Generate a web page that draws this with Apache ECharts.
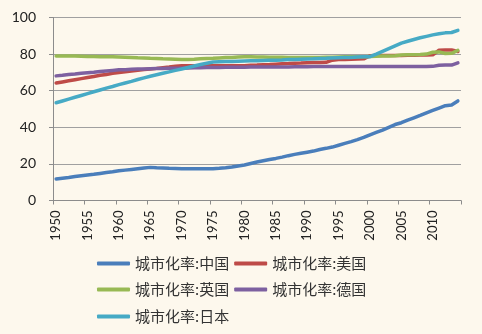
<!DOCTYPE html>
<html>
<head>
<meta charset="utf-8">
<script src="https://cdn.jsdelivr.net/npm/echarts@6/dist/echarts.min.js"></script>
<style>
html,body{margin:0;padding:0;background:#fdf8ed;}
#c{width:482px;height:334px;}
</style>
</head>
<body>
<div id="c"></div>
<script>
const years = [];
for (let y = 1950; y <= 2014; y++) years.push(String(y));

const seriesNames = ['城市化率:中国', '城市化率:美国', '城市化率:英国', '城市化率:德国', '城市化率:日本'];

const china = [
  11.8, 12.2, 12.6, 13.1, 13.5, 13.9, 14.3, 14.8, 15.3, 15.7,
  16.2, 16.6, 17.0, 17.4, 17.8, 18.1, 17.9, 17.8, 17.6, 17.5,
  17.4, 17.3, 17.3, 17.3, 17.3, 17.4, 17.6, 17.9, 18.3, 18.9,
  19.4, 20.2, 21.0, 21.7, 22.4, 23.0, 23.7, 24.5, 25.2, 25.8,
  26.4, 27.0, 27.9, 28.5, 29.2, 30.2, 31.2, 32.2, 33.3, 34.5,
  35.9, 37.2, 38.5, 40.0, 41.5, 42.5, 43.9, 45.2, 46.5, 47.9,
  49.2, 50.5, 51.8, 52.2, 54.4
];
const usa = [
  64.2, 64.8, 65.4, 66.0, 66.6, 67.2, 67.8, 68.4, 68.9, 69.5,
  70.0, 70.4, 70.8, 71.2, 71.6, 71.9, 72.2, 72.6, 72.9, 73.3,
  73.6, 73.6, 73.6, 73.7, 73.7, 73.7, 73.7, 73.7, 73.7, 73.7,
  73.7, 73.9, 74.0, 74.2, 74.3, 74.5, 74.7, 74.8, 75.0, 75.1,
  75.3, 75.4, 75.4, 75.5, 76.7, 77.0, 77.1, 77.2, 77.3, 77.4,
  79.1, 79.2, 79.2, 79.3, 79.3, 79.3, 79.4, 79.4, 79.5, 79.5,
  79.6, 82.1, 82.3, 82.2, 81.4
];
const uk = [
  79.0, 79.0, 78.9, 78.9, 78.8, 78.7, 78.7, 78.6, 78.6, 78.5,
  78.4, 78.3, 78.2, 78.0, 77.9, 77.7, 77.6, 77.4, 77.3, 77.2,
  77.1, 77.1, 77.2, 77.4, 77.6, 77.7, 77.9, 78.1, 78.2, 78.4,
  78.5, 78.5, 78.4, 78.4, 78.3, 78.3, 78.3, 78.2, 78.2, 78.1,
  78.1, 78.2, 78.2, 78.3, 78.3, 78.4, 78.5, 78.5, 78.6, 78.6,
  78.7, 78.8, 78.9, 79.0, 79.1, 79.5, 79.6, 79.7, 79.8, 80.0,
  81.0, 81.2, 80.3, 80.4, 82.0
];
const germany = [
  68.1, 68.4, 68.8, 69.1, 69.5, 69.8, 70.1, 70.5, 70.8, 71.1,
  71.4, 71.5, 71.7, 71.8, 71.9, 72.0, 72.1, 72.1, 72.2, 72.2,
  72.3, 72.4, 72.5, 72.6, 72.7, 72.7, 72.7, 72.8, 72.8, 72.8,
  72.8, 72.9, 72.9, 72.9, 73.0, 73.0, 73.0, 73.0, 73.1, 73.1,
  73.1, 73.2, 73.2, 73.2, 73.2, 73.2, 73.2, 73.2, 73.2, 73.2,
  73.2, 73.2, 73.2, 73.2, 73.2, 73.2, 73.2, 73.2, 73.2, 73.2,
  73.3, 73.9, 74.0, 74.0, 75.2
];
const japan = [
  53.4, 54.4, 55.4, 56.4, 57.4, 58.4, 59.4, 60.4, 61.4, 62.3,
  63.3, 64.2, 65.1, 66.1, 67.0, 67.9, 68.7, 69.5, 70.3, 71.1,
  71.9, 72.7, 73.5, 74.3, 75.0, 75.7, 75.8, 75.9, 76.0, 76.1,
  76.2, 76.3, 76.4, 76.5, 76.6, 76.7, 76.8, 77.0, 77.1, 77.2,
  77.3, 77.4, 77.6, 77.7, 77.9, 78.0, 78.1, 78.2, 78.4, 78.5,
  78.6, 80.0, 81.5, 83.0, 84.5, 86.0, 87.0, 88.0, 88.9, 89.7,
  90.5, 91.1, 91.6, 91.8, 93.0
];

const yTicks = [0, 20, 40, 60, 80, 100];
const colors = ['#4a7ebb', '#be4b48', '#98b954', '#7d60a0', '#46aac5'];
const values = [china, usa, uk, germany, japan];

const chart = echarts.init(document.getElementById('c'), null, {renderer: 'canvas'});

const legendBase = {
  left: 97,
  orient: 'horizontal',
  icon: 'roundRect',
  itemWidth: 33,
  itemHeight: 4,
  itemGap: 5,
  padding: 0,
  textStyle: {
    fontFamily: 'Noto Sans CJK SC',
    fontSize: 15,
    color: '#333',
    width: 105
  }
};

chart.setOption({
  backgroundColor: '#fdf8ed',
  animation: false,
  color: colors,
  grid: {left: 53, right: 21, top: 17.5, bottom: 133.5, containLabel: false},
  legend: [
    Object.assign({}, legendBase, {top: 256, data: [seriesNames[0], seriesNames[1]]}),
    Object.assign({}, legendBase, {top: 282, data: [seriesNames[2], seriesNames[3]]}),
    Object.assign({}, legendBase, {top: 309, data: [seriesNames[4]]})
  ],
  xAxis: {
    type: 'category',
    data: years,
    boundaryGap: true,
    axisLine: {lineStyle: {color: '#8c8c8c', width: 1}},
    axisTick: {show: true, interval: 4, length: 4, lineStyle: {color: '#8c8c8c'}},
    axisLabel: {
      interval: 4,
      rotate: 90,
      margin: 10,
      fontFamily: 'Lato',
      fontSize: 13,
      color: '#222'
    },
    splitLine: {show: false}
  },
  yAxis: {
    type: 'value',
    min: yTicks[0],
    max: yTicks[yTicks.length - 1],
    interval: 20,
    axisLine: {show: true, lineStyle: {color: '#8c8c8c', width: 1}},
    axisTick: {show: true, length: 4, lineStyle: {color: '#8c8c8c'}},
    axisLabel: {
      margin: 17,
      fontFamily: 'Lato',
      fontSize: 14,
      color: '#222'
    },
    splitLine: {lineStyle: {color: '#a0a0a0', width: 1}}
  },
  series: seriesNames.map((n, i) => ({
    name: n,
    type: 'line',
    data: values[i],
    showSymbol: false,
    symbol: 'none',
    lineStyle: {width: 3.5, color: colors[i], cap: 'round', join: 'round'},
    itemStyle: {color: colors[i]}
  }))
});
</script>
</body>
</html>
